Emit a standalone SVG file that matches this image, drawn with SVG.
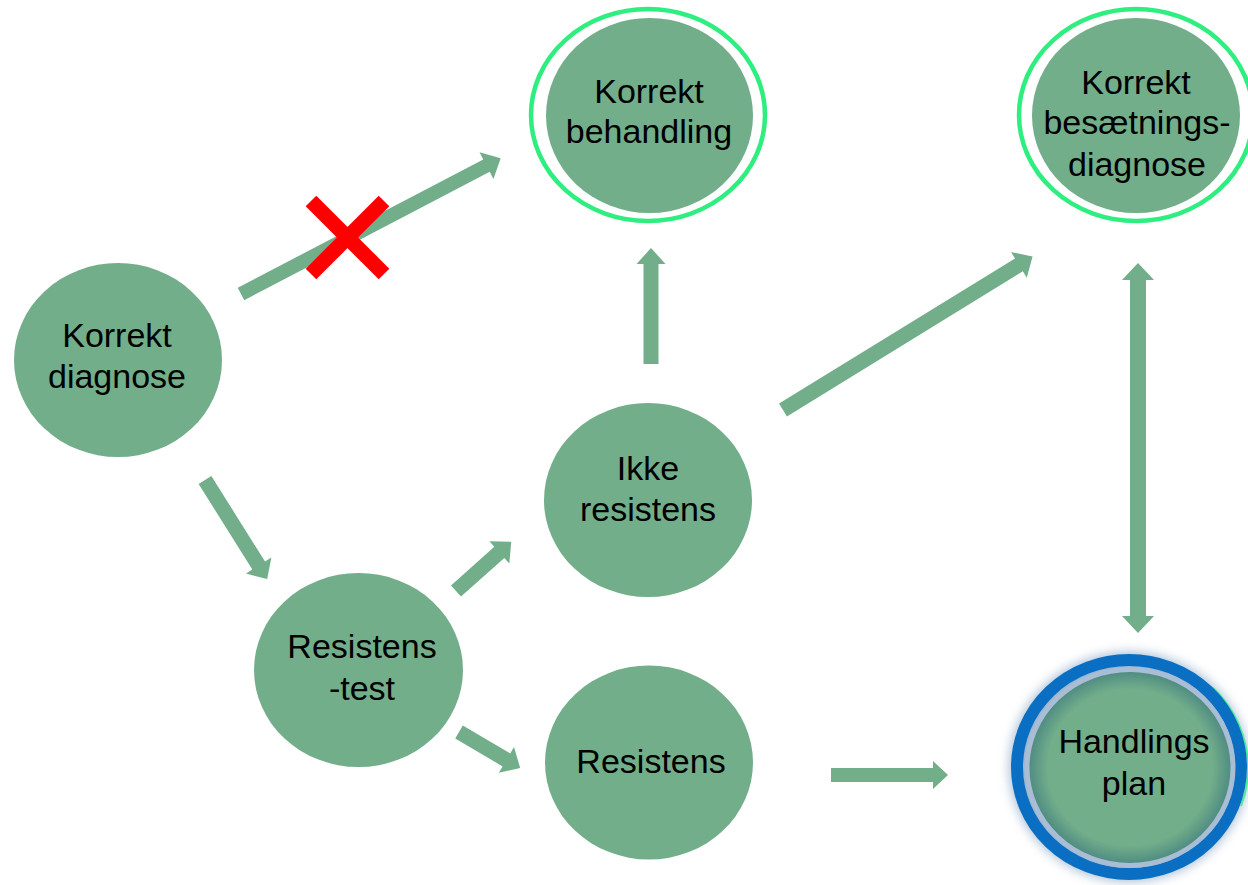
<svg xmlns="http://www.w3.org/2000/svg" width="1248" height="885" viewBox="0 0 1248 885">
  <style>
    .node { fill: #72AE8A; }
    .ring { fill: none; stroke: #2FEE80; stroke-width: 4.5; }
    .lbl { font-family: "Liberation Sans", Arial, sans-serif; font-size: 34px; fill: #000; text-anchor: middle; }
    .arrow { fill: #72AE8A; }
    .cross { stroke: #FF0000; stroke-width: 15; stroke-linecap: butt; }
  </style>
  <defs>
    <filter id="glow" x="-30%" y="-30%" width="160%" height="160%">
      <feGaussianBlur stdDeviation="6"/>
    </filter>
    <radialGradient id="innerShade" cx="50%" cy="50%" r="50%">
      <stop offset="0" stop-color="#72AE8A"/>
      <stop offset="0.8" stop-color="#72AE8A"/>
      <stop offset="1" stop-color="#4C8881"/>
    </radialGradient>
  </defs>
  <rect width="1248" height="885" fill="#FFFFFF"/>

  <g id="connectors">
    <!-- Korrekt diagnose -> Korrekt behandling (crossed out) -->
    <polygon class="arrow" transform="translate(241,294) rotate(-27.6)" points="0,-7 277,-7 277,-15 293,0 277,15 277,7 0,7"/>
    <!-- Ikke resistens -> Korrekt behandling -->
    <polygon class="arrow" transform="translate(651,364) rotate(-90)" points="0,-7.5 100,-7.5 100,-14.5 116,0 100,14.5 100,7.5 0,7.5"/>
    <!-- Ikke resistens -> Korrekt besaetningsdiagnose -->
    <polygon class="arrow" transform="translate(783,410) rotate(-31.6)" points="0,-7.5 277,-7.5 277,-15 293,0 277,15 277,7.5 0,7.5"/>
    <!-- Korrekt besaetningsdiagnose <-> Handlings plan -->
    <polygon class="arrow" points="1138,263 1154,280 1146,280 1146,616 1154,616 1138,633 1122,616 1130,616 1130,280 1122,280"/>
    <!-- Korrekt diagnose -> Resistens-test -->
    <polygon class="arrow" transform="translate(205,480) rotate(57.9)" points="0,-7.5 101,-7.5 101,-15 117,0 101,15 101,7.5 0,7.5"/>
    <!-- Resistens-test -> Ikke resistens -->
    <polygon class="arrow" transform="translate(456,591) rotate(-41.7)" points="0,-7.5 58,-7.5 58,-15 74,0 58,15 58,7.5 0,7.5"/>
    <!-- Resistens-test -> Resistens -->
    <polygon class="arrow" transform="translate(459,732) rotate(30.5)" points="0,-7.5 55,-7.5 55,-15 71,0 55,15 55,7.5 0,7.5"/>
    <!-- Resistens -> Handlings plan -->
    <polygon class="arrow" points="831,768 933,768 933,761 948,775 933,789 933,782 831,782"/>
    <!-- red cross -->
    <line class="cross" x1="311" y1="201" x2="384" y2="274"/>
    <line class="cross" x1="384" y1="201" x2="311" y2="274"/>
  </g>

  <g id="korrekt-diagnose">
    <ellipse class="node" cx="118" cy="360" rx="104" ry="97"/>
    <text class="lbl" x="117" y="347">Korrekt</text>
    <text class="lbl" x="117" y="388">diagnose</text>
  </g>

  <g id="korrekt-behandling">
    <ellipse class="ring" cx="648" cy="115" rx="117" ry="106"/>
    <ellipse class="node" cx="649.5" cy="115.5" rx="103.5" ry="97.5"/>
    <text class="lbl" x="649" y="103">Korrekt</text>
    <text class="lbl" x="649" y="143">behandling</text>
  </g>

  <g id="korrekt-besaetningsdiagnose">
    <ellipse class="ring" cx="1136" cy="115" rx="117" ry="106"/>
    <ellipse class="node" cx="1136" cy="115.5" rx="104" ry="97.5"/>
    <text class="lbl" x="1136" y="94">Korrekt</text>
    <text class="lbl" x="1137" y="134">besætnings-</text>
    <text class="lbl" x="1137" y="176">diagnose</text>
  </g>

  <g id="ikke-resistens">
    <ellipse class="node" cx="648" cy="500" rx="104" ry="97"/>
    <text class="lbl" x="648" y="480">Ikke</text>
    <text class="lbl" x="648" y="521">resistens</text>
  </g>

  <g id="resistens-test">
    <ellipse class="node" cx="358.5" cy="670" rx="104.5" ry="97"/>
    <text class="lbl" x="362" y="658">Resistens</text>
    <text class="lbl" x="362" y="700">-test</text>
  </g>

  <g id="resistens">
    <ellipse class="node" cx="649" cy="762.5" rx="104" ry="97"/>
    <text class="lbl" x="651" y="773">Resistens</text>
  </g>

  <g id="handlings-plan">
    <ellipse cx="1129" cy="767" rx="119" ry="114" fill="#7E9EC0" opacity="0.75" filter="url(#glow)"/>
    <path d="M1213,688 A119.5,113.5 0 0 1 1241,806" fill="none" stroke="#2FEE80" stroke-width="2" opacity="0.8"/>
    <ellipse cx="1129" cy="767" rx="112" ry="107" fill="none" stroke="#0A6FC2" stroke-width="12"/>
    <ellipse cx="1130" cy="767.5" rx="103" ry="98" fill="url(#innerShade)" stroke="#A9BDD5" stroke-width="5"/>
    <text class="lbl" x="1134" y="753">Handlings</text>
    <text class="lbl" x="1134" y="795">plan</text>
  </g>
</svg>
